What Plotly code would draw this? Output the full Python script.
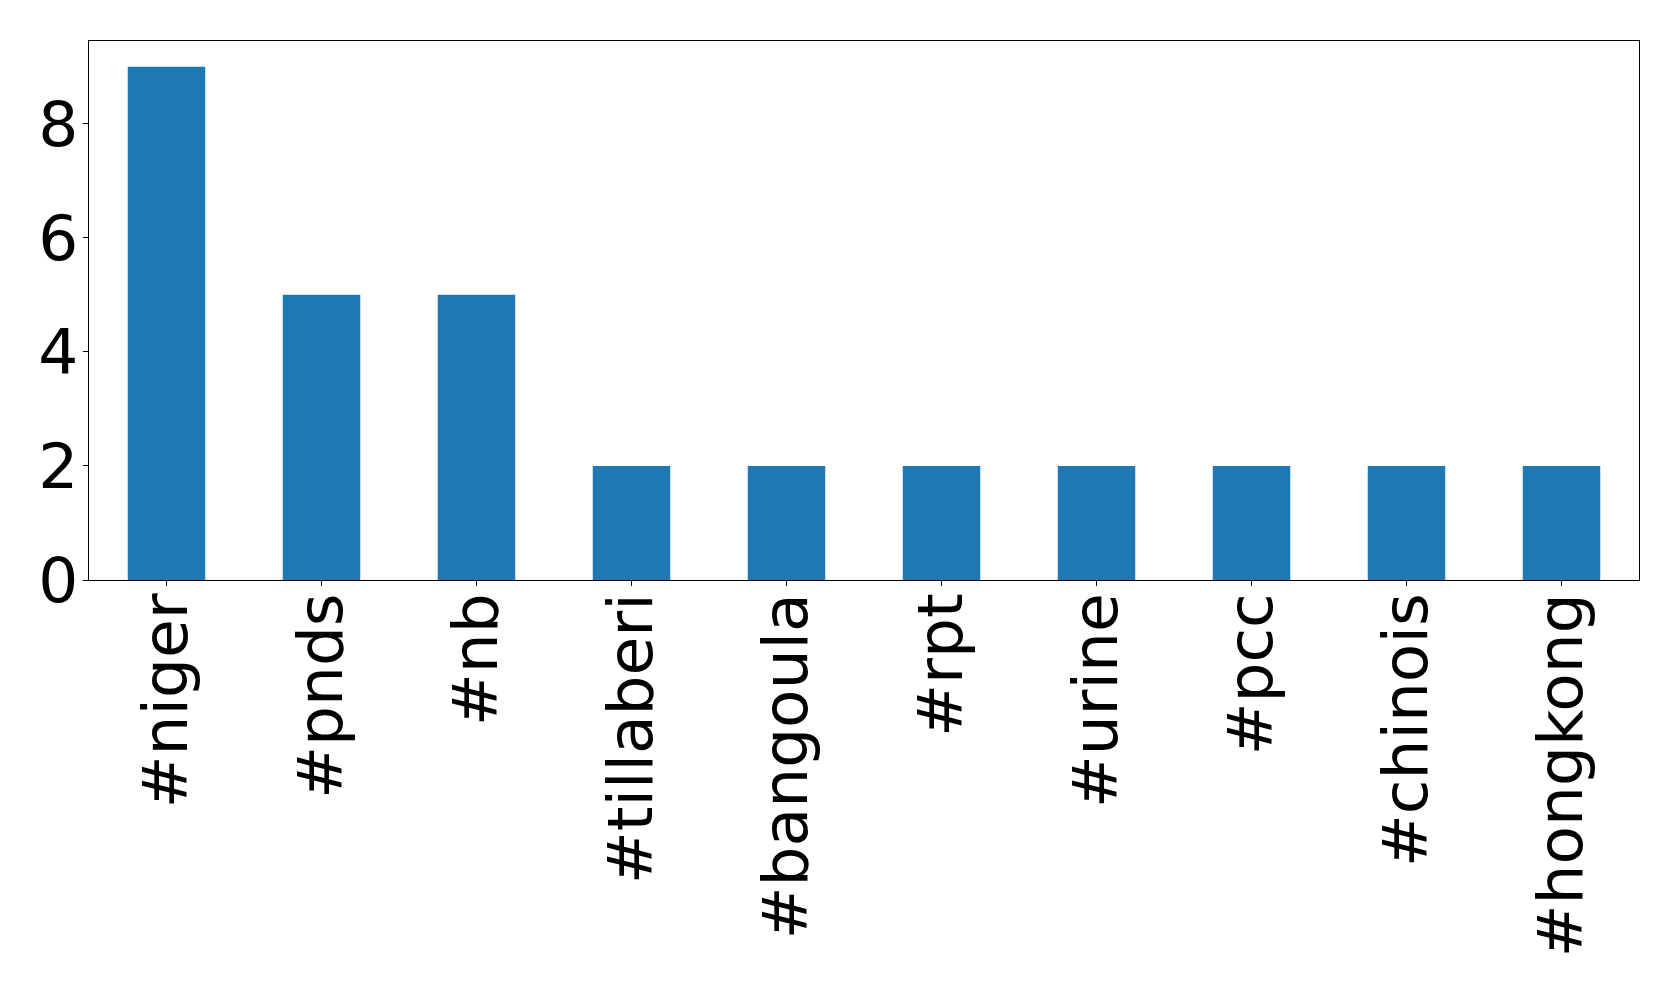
import plotly.graph_objects as go

categories = ["#niger", "#pnds", "#nb", "#tillaberi", "#bangoula", "#rpt",
              "#urine", "#pcc", "#chinois", "#hongkong"]
counts = [9, 5, 5, 2, 2, 2, 2, 2, 2, 2]
y_ticks = [0, 2, 4, 6, 8]

fig = go.Figure(go.Bar(x=categories, y=counts, width=0.5,
                       marker=dict(color="#1f77b4", line=dict(width=0))))

fig.update_layout(
    width=1679, height=989,
    margin=dict(l=81, r=48, t=33, b=417, autoexpand=False),
    paper_bgcolor="white", plot_bgcolor="white",
    font=dict(family="DejaVu Sans", color="black"),
    showlegend=False,
    bargap=0.5,
)
fig.update_xaxes(
    type="category", range=[-0.5, 9.5],
    showline=True, mirror=True, linecolor="black", linewidth=1.2,
    ticks="outside", ticklen=5, tickwidth=1, tickcolor="black",
    tickangle=-90, tickfont=dict(size=63, family="DejaVu Sans", color="black"),
    ticklabelstandoff=-18,
    showgrid=False, zeroline=False,
)
fig.update_yaxes(
    range=[0, 9.45], tickvals=y_ticks, ticktext=[str(v) for v in y_ticks],
    showline=True, mirror=True, linecolor="black", linewidth=1.2,
    ticks="outside", ticklen=5, tickwidth=1, tickcolor="black",
    tickfont=dict(size=63, family="DejaVu Sans", color="black"),
    ticklabelstandoff=-8,
    showgrid=False, zeroline=False,
)

fig.write_html("out.html")
